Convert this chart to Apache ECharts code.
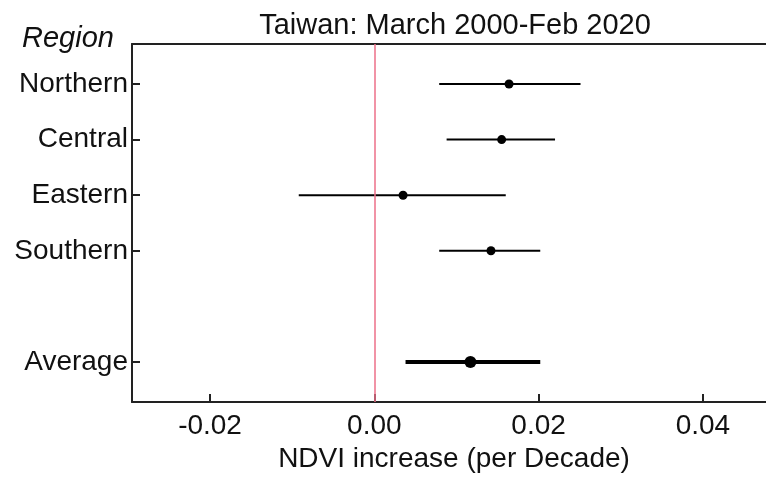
<!DOCTYPE html>
<html>
<head>
<meta charset="utf-8">
<script src="https://cdn.jsdelivr.net/npm/echarts@6/dist/echarts.min.js"></script>
<style>
  html, body { margin: 0; padding: 0; background: #ffffff; }
  #chart { width: 766px; height: 477px; }
</style>
</head>
<body>
<div id="chart"></div>
<script>
// Rows (blank string = spacer row between regions and the average)
var rows = ['Northern', 'Central', 'Eastern', 'Southern', '', 'Average'];
var estimates = [0.0164, 0.0155, 0.0035, 0.0142, null, 0.0117];
var lower     = [0.0079, 0.0088, -0.0092, 0.0079, null, 0.0038];
var upper     = [0.0251, 0.0220, 0.0160, 0.0202, null, 0.0202];
var xTicks = [-0.02, 0.00, 0.02, 0.04];
var titleText = 'Taiwan: March 2000-Feb 2020';
var xName = 'NDVI increase (per Decade)';
var yName = 'Region';

var FONT = 'Liberation Sans, Arial, sans-serif';
var AXIS_COLOR = '#222222';
var X_MIN = -0.0295, X_MAX = 0.0489;

var rowPos = [];
var intervalData = [];
var pointData = [];
var avgIntervalData = [];
var avgPointData = [];
rows.forEach(function (r, i) {
  if (r === '') return;
  rowPos.push(i + 1);
  var isAvg = (r === 'Average');
  (isAvg ? avgIntervalData : intervalData).push([lower[i], upper[i], i + 1]);
  (isAvg ? avgPointData : pointData).push([estimates[i], i + 1]);
});

function intervalRender(width) {
  return function (params, api) {
    var a = api.coord([api.value(0), api.value(2)]);
    var b = api.coord([api.value(1), api.value(2)]);
    return {
      type: 'line',
      shape: { x1: a[0], y1: a[1], x2: b[0], y2: b[1] },
      style: { stroke: '#000000', lineWidth: width }
    };
  };
}

var chart = echarts.init(document.getElementById('chart'), null, { renderer: 'canvas' });
chart.setOption({
  animation: false,
  backgroundColor: '#ffffff',
  title: {
    text: titleText,
    left: 450,
    top: 6,
    textAlign: 'center',
    textStyle: { fontFamily: FONT, fontSize: 29, fontWeight: 'normal', color: '#111111' }
  },
  graphic: [{
    type: 'text',
    left: 22,
    top: 24,
    style: {
      text: yName,
      font: 'italic 29px ' + FONT,
      fill: '#111111'
    }
  }],
  grid: {
    left: 132, top: 44, width: 644, height: 358,
    outerBoundsMode: 'none',
    show: false,
    containLabel: false
  },
  xAxis: [{
    type: 'value',
    min: X_MIN,
    max: X_MAX,
    name: xName,
    nameLocation: 'middle',
    nameGap: 40,
    nameTextStyle: { fontFamily: FONT, fontSize: 28, color: '#111111' },
    splitLine: { show: false },
    axisLine: { show: true, onZero: false, lineStyle: { color: AXIS_COLOR, width: 2 } },
    axisTick: { show: true, inside: true, length: 8, customValues: xTicks, lineStyle: { color: AXIS_COLOR, width: 2 } },
    axisLabel: {
      customValues: xTicks,
      margin: 10,
      fontFamily: FONT, fontSize: 28, color: '#111111',
      formatter: function (v) { return v.toFixed(2); }
    }
  }, {
    type: 'value',
    position: 'top',
    min: X_MIN,
    max: X_MAX,
    splitLine: { show: false },
    axisLine: { show: true, onZero: false, lineStyle: { color: AXIS_COLOR, width: 2 } },
    axisTick: { show: false },
    axisLabel: { show: false }
  }],
  yAxis: {
    type: 'value',
    inverse: true,
    min: 0.28,
    max: 6.72,
    splitLine: { show: false },
    axisLine: { show: true, onZero: false, lineStyle: { color: AXIS_COLOR, width: 2 } },
    axisTick: { show: true, inside: true, length: 8, customValues: rowPos, lineStyle: { color: AXIS_COLOR, width: 2 } },
    axisLabel: {
      customValues: rowPos,
      margin: 4,
      fontFamily: FONT, fontSize: 28, color: '#111111',
      formatter: function (v) { return rows[Math.round(v) - 1] || ''; }
    }
  },
  series: [
    {
      type: 'custom',
      renderItem: intervalRender(2),
      data: intervalData,
      encode: { x: [0, 1], y: 2 },
      z: 3,
      markLine: {
        silent: true,
        symbol: ['none', 'none'],
        label: { show: false },
        lineStyle: { color: '#ec6f88', width: 1.5, type: 'solid', opacity: 1 },
        data: [{ xAxis: 0 }]
      }
    },
    {
      type: 'custom',
      renderItem: intervalRender(4),
      data: avgIntervalData,
      encode: { x: [0, 1], y: 2 },
      z: 3
    },
    {
      type: 'scatter',
      data: pointData,
      symbol: 'circle',
      symbolSize: 9,
      itemStyle: { color: '#000000', opacity: 1 },
      z: 4
    },
    {
      type: 'scatter',
      data: avgPointData,
      symbol: 'circle',
      symbolSize: 12,
      itemStyle: { color: '#000000', opacity: 1 },
      z: 4
    }
  ]
});
</script>
</body>
</html>
